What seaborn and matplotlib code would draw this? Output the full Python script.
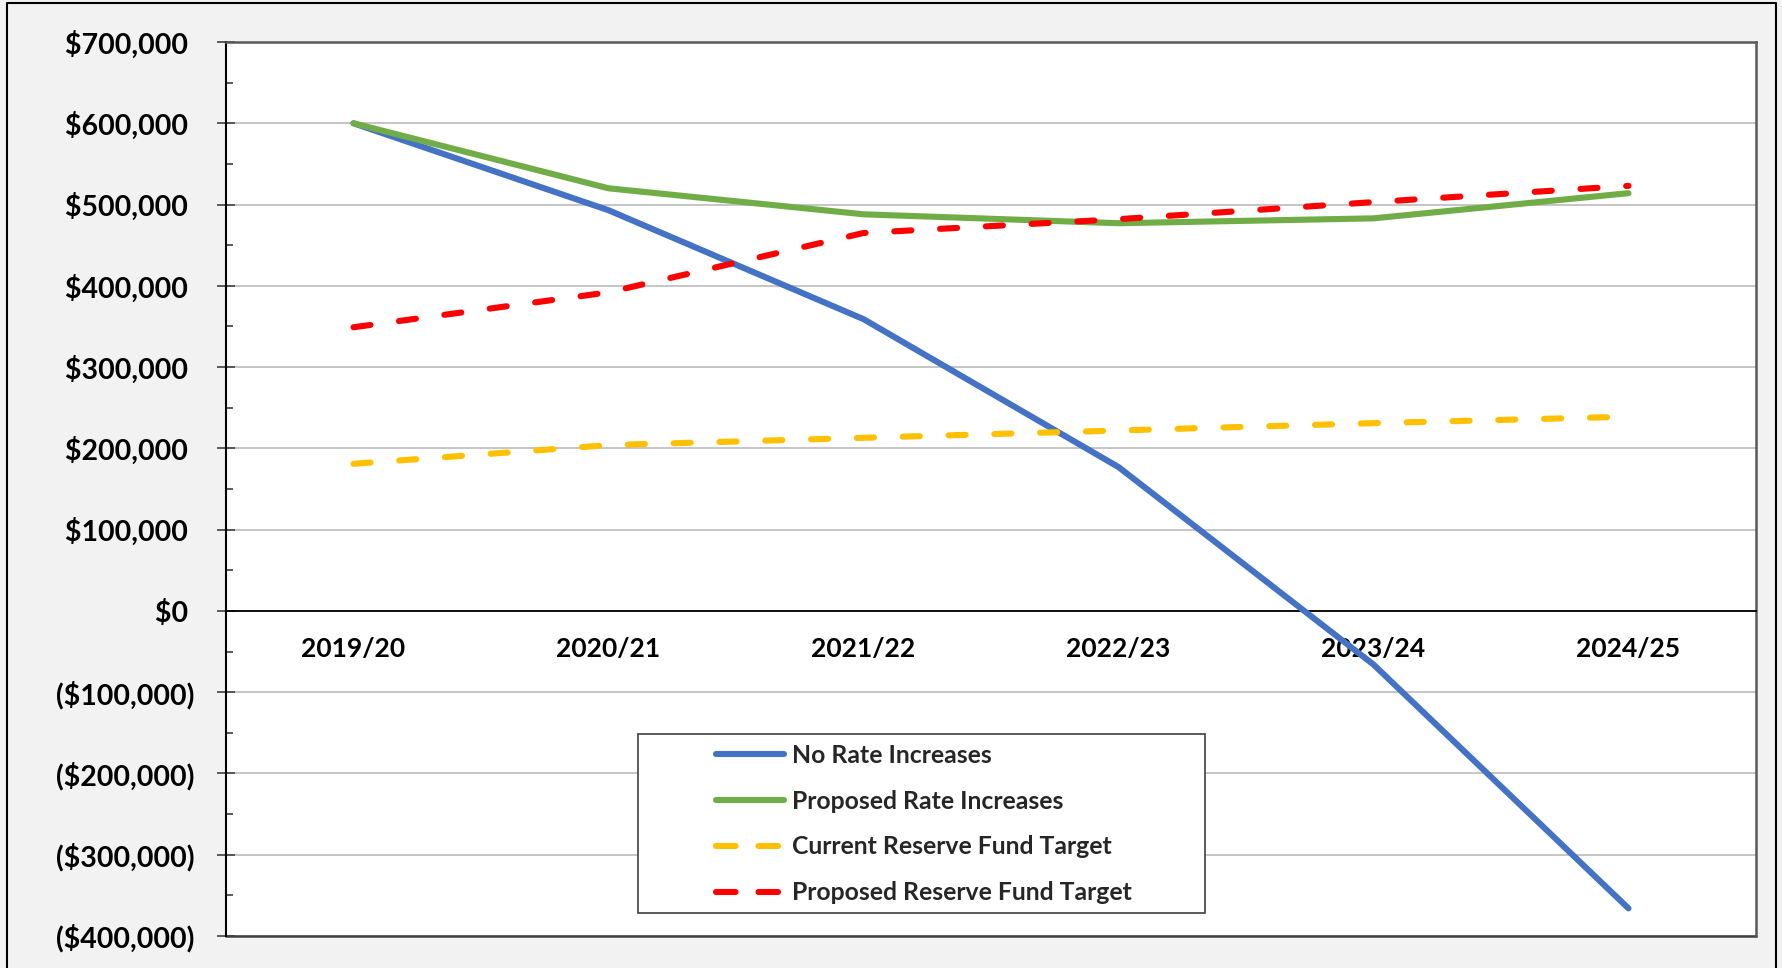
import numpy as np
import pandas as pd
import matplotlib.pyplot as plt
import seaborn as sns
from matplotlib.lines import Line2D
from matplotlib.patches import Rectangle
from matplotlib.ticker import MultipleLocator, FuncFormatter, FixedLocator

# Data
years = ['2019/20', '2020/21', '2021/22', '2022/23', '2023/24', '2024/25']
no_rate_increases = [600000, 493000, 359000, 177000, -66000, -366000]
proposed_rate_increases = [600000, 520000, 488000, 477000, 483000, 514000]
current_reserve_target = [181000, 204000, 213000, 222000, 231000, 239000]
proposed_reserve_target = [349000, 392000, 465000, 482000, 503000, 523000]

labels = ['No Rate Increases', 'Proposed Rate Increases',
          'Current Reserve Fund Target', 'Proposed Reserve Fund Target']
colors = ['#4472C4', '#70AD47', '#FFC000', '#FF0000']

sns.set_theme(style='white')
plt.rcParams['font.family'] = ['Lato', 'DejaVu Sans']
plt.rcParams['font.weight'] = 'bold'

W, H = 1782, 968
fig = plt.figure(figsize=(W / 100, H / 100), dpi=100, facecolor='#f2f2f2')
ax = fig.add_axes([226 / W, 1 - 936 / H, (1756 - 226) / W, (936 - 42) / H])
ax.set_facecolor('white')

series = [no_rate_increases, proposed_rate_increases,
          current_reserve_target, proposed_reserve_target]
dashed = [False, False, True, True]
lw = 4.4
for vals, col, dash in zip(series, colors, dashed):
    sns.lineplot(x=years, y=vals, ax=ax, color=col, sort=False, legend=False, zorder=3)
    line = ax.lines[-1]
    line.set_linewidth(lw)
    line.set_solid_capstyle('round')
    line.set_solid_joinstyle('round')
    if dash:
        line.set_linestyle((0, (2.8, 4.7)))
        line.set_dash_capstyle('round')

ax.set_xlim(-0.5, 5.5)
ax.set_ylim(-400000, 700000)
ax.yaxis.set_major_locator(FixedLocator(np.arange(-400000, 700001, 100000)))
ax.yaxis.set_minor_locator(MultipleLocator(50000))


def money(v, pos):
    if v >= 0:
        return f'${v:,.0f} '
    return f'(${-v:,.0f})'


ax.yaxis.set_major_formatter(FuncFormatter(money))
ax.set_xlabel('')
ax.set_ylabel('')

ax.tick_params(axis='y', which='major', left=True, direction='inout', length=13,
               width=1.2, color='#404040', labelsize=20.5, pad=16, labelcolor='black')
ax.tick_params(axis='y', which='minor', left=True, direction='in', length=5,
               width=1.2, color='#404040')
ax.tick_params(axis='x', length=0, labelsize=19, pad=19, labelcolor='black')

ax.yaxis.grid(True, which='major', color='#c0c0c0', lw=1.3)
ax.set_axisbelow(True)

ax.spines['bottom'].set_position(('data', 0))
ax.spines['bottom'].set_color('black')
ax.spines['bottom'].set_linewidth(1.3)
ax.spines['left'].set_color('black')
ax.spines['left'].set_linewidth(1.5)
for s in ['top', 'right']:
    ax.spines[s].set_visible(True)
    ax.spines[s].set_color('#595959')
    ax.spines[s].set_linewidth(1.8)
ax.add_line(Line2D([0, 1], [0, 0], transform=ax.transAxes, color='#404040',
                   lw=1.8, clip_on=False, zorder=2.5))

# legend with a hand-placed frame
handles = []
for col, dash in zip(colors, dashed):
    if dash:
        h = Line2D([0], [0], color=col, lw=lw, linestyle=(0, (3.2, 3.75)),
                   dash_capstyle='round')
    else:
        h = Line2D([0], [0], color=col, lw=lw, solid_capstyle='round')
    handles.append(h)

ax.add_patch(Rectangle((638 / W, 1 - 913 / H), (1205 - 638) / W, (913 - 734) / H,
                       transform=fig.transFigure, facecolor='white',
                       edgecolor='#404040', lw=1.2, zorder=4, clip_on=False))
leg = ax.legend(handles, labels, loc='upper left',
                bbox_to_anchor=(716 / W, 1 - 744 / H), bbox_transform=fig.transFigure,
                frameon=False, borderpad=0, borderaxespad=0, handlelength=2.75,
                handletextpad=0.32, labelspacing=0.92,
                prop=dict(weight='bold', size=17.8))
leg.set_zorder(5)

# outer border of the chart
fig.add_artist(Line2D([7 / W, 7 / W, 1776 / W, 1776 / W],
                      [-0.02, 1 - 3 / H, 1 - 3 / H, -0.02],
                      transform=fig.transFigure, color='black', lw=1.5))

fig.savefig('out.png', dpi=100, facecolor=fig.get_facecolor())
